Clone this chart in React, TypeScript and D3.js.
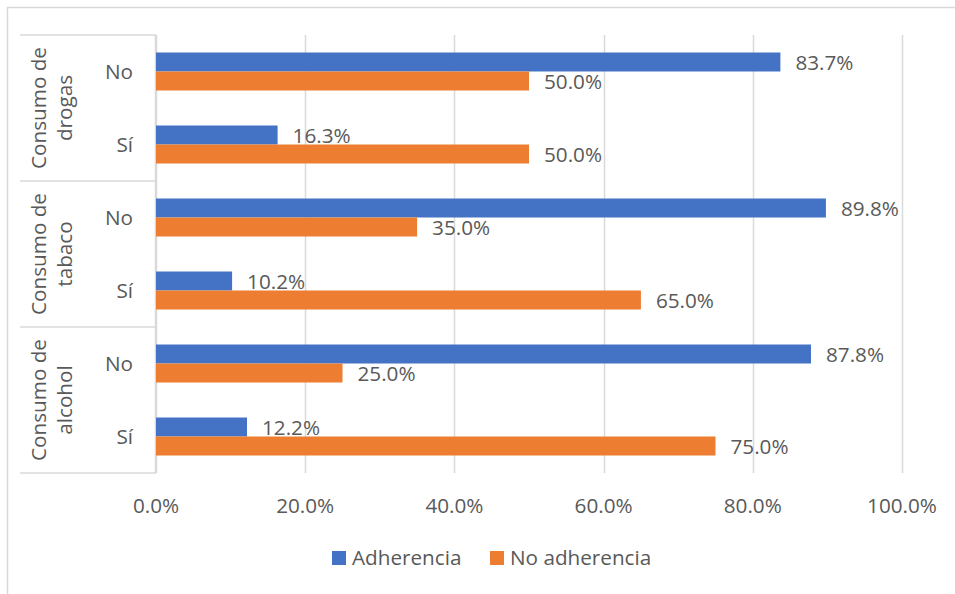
import React from "react";
import * as d3 from "d3";

const groups = ["Consumo de drogas", "Consumo de tabaco", "Consumo de alcohol"];
const groupLines = [["Consumo de", "drogas"], ["Consumo de", "tabaco"], ["Consumo de", "alcohol"]];
const subcats = ["No", "Sí"];
const seriesNames = ["Adherencia", "No adherencia"];
const adherencia = [83.7, 16.3, 89.8, 10.2, 87.8, 12.2];
const noAdherencia = [50.0, 50.0, 35.0, 65.0, 25.0, 75.0];
const ticks = [0, 20, 40, 60, 80, 100];
const colors = ["#4472C4", "#ED7D31"];

const W = 955, H = 594;
const FONT = "'Open Sans', 'Liberation Sans', sans-serif";
const TXT = "#595959";
const GRID = "#D9D9D9";
const FS = 20.7;

export default function App() {
  const left = 156, right = 902, top = 35, bottom = 473;
  const x = d3.scaleLinear().domain([0, 100]).range([left, right]);
  const rows = groups.flatMap((g, gi) => subcats.map((s, si) => ({ key: `${gi}-${si}`, g: gi, s })));
  const y0 = d3.scaleBand<string>().domain(rows.map(r => r.key)).range([top, bottom]).padding(0);
  const bw = y0.bandwidth();
  const y1 = d3.scaleBand<string>().domain(seriesNames).range([0, bw]).paddingInner(0).paddingOuter(0.921);
  const values = [adherencia, noAdherencia];
  const groupH = (bottom - top) / groups.length;
  const fmt = d3.format(".1f");

  return (
    <svg width={W} height={H} style={{ position: "absolute", left: 0, top: 0, fontFamily: FONT }}>
      <rect x={0} y={0} width={W} height={H} fill="#fff" />
      <rect x={7.5} y={7.5} width={W + 20} height={H + 20} fill="none" stroke={GRID} strokeWidth={1.5} />
      {ticks.map(t => (
        <line key={t} x1={Math.round(x(t)) + 0.5} x2={Math.round(x(t)) + 0.5} y1={top} y2={bottom} stroke={GRID} strokeWidth={1.5} />
      ))}
      <line x1={left - 0.5} x2={left - 0.5} y1={top} y2={bottom} stroke={GRID} strokeWidth={1.5} />
      {d3.range(groups.length + 1).map(i => (
        <line key={i} x1={20} x2={left} y1={top + i * groupH} y2={top + i * groupH} stroke={GRID} strokeWidth={1.5} />
      ))}
      {rows.map((r, ri) => (
        <g key={r.key}>
          {seriesNames.map((sn, k) => {
            const v = values[k][ri];
            const yy = (y0(r.key) as number) + (y1(sn) as number);
            return (
              <g key={sn}>
                <rect x={x(0)} y={yy} width={x(v) - x(0)} height={y1.bandwidth()} fill={colors[k]} />
                <text x={x(v) + 15} y={yy + y1.bandwidth() / 2} dy="0.37em" fontSize={FS} fill={TXT}>{fmt(v)}%</text>
              </g>
            );
          })}
          <text x={133} y={(y0(r.key) as number) + bw / 2} dy="0.37em" textAnchor="end" fontSize={FS} fill={TXT}>{r.s}</text>
        </g>
      ))}
      {groupLines.map((lines, gi) => {
        const cy = top + gi * groupH + groupH / 2;
        return (
          <text key={gi} transform={`translate(0,${cy}) rotate(-90)`} textAnchor="middle" fontSize={FS} fill={TXT}>
            <tspan x={0} y={46}>{lines[0]}</tspan>
            <tspan x={0} y={72}>{lines[1]}</tspan>
          </text>
        );
      })}
      {ticks.map(t => (
        <text key={t} x={x(t)} y={513} textAnchor="middle" fontSize={FS} fill={TXT}>{fmt(t)}%</text>
      ))}
      {seriesNames.map((sn, k) => {
        const lx = [332, 490][k];
        return (
          <g key={sn}>
            <rect x={lx} y={551} width={14} height={14} fill={colors[k]} />
            <text x={lx + 20} y={565} fontSize={FS} fill={TXT}>{sn}</text>
          </g>
        );
      })}
    </svg>
  );
}
